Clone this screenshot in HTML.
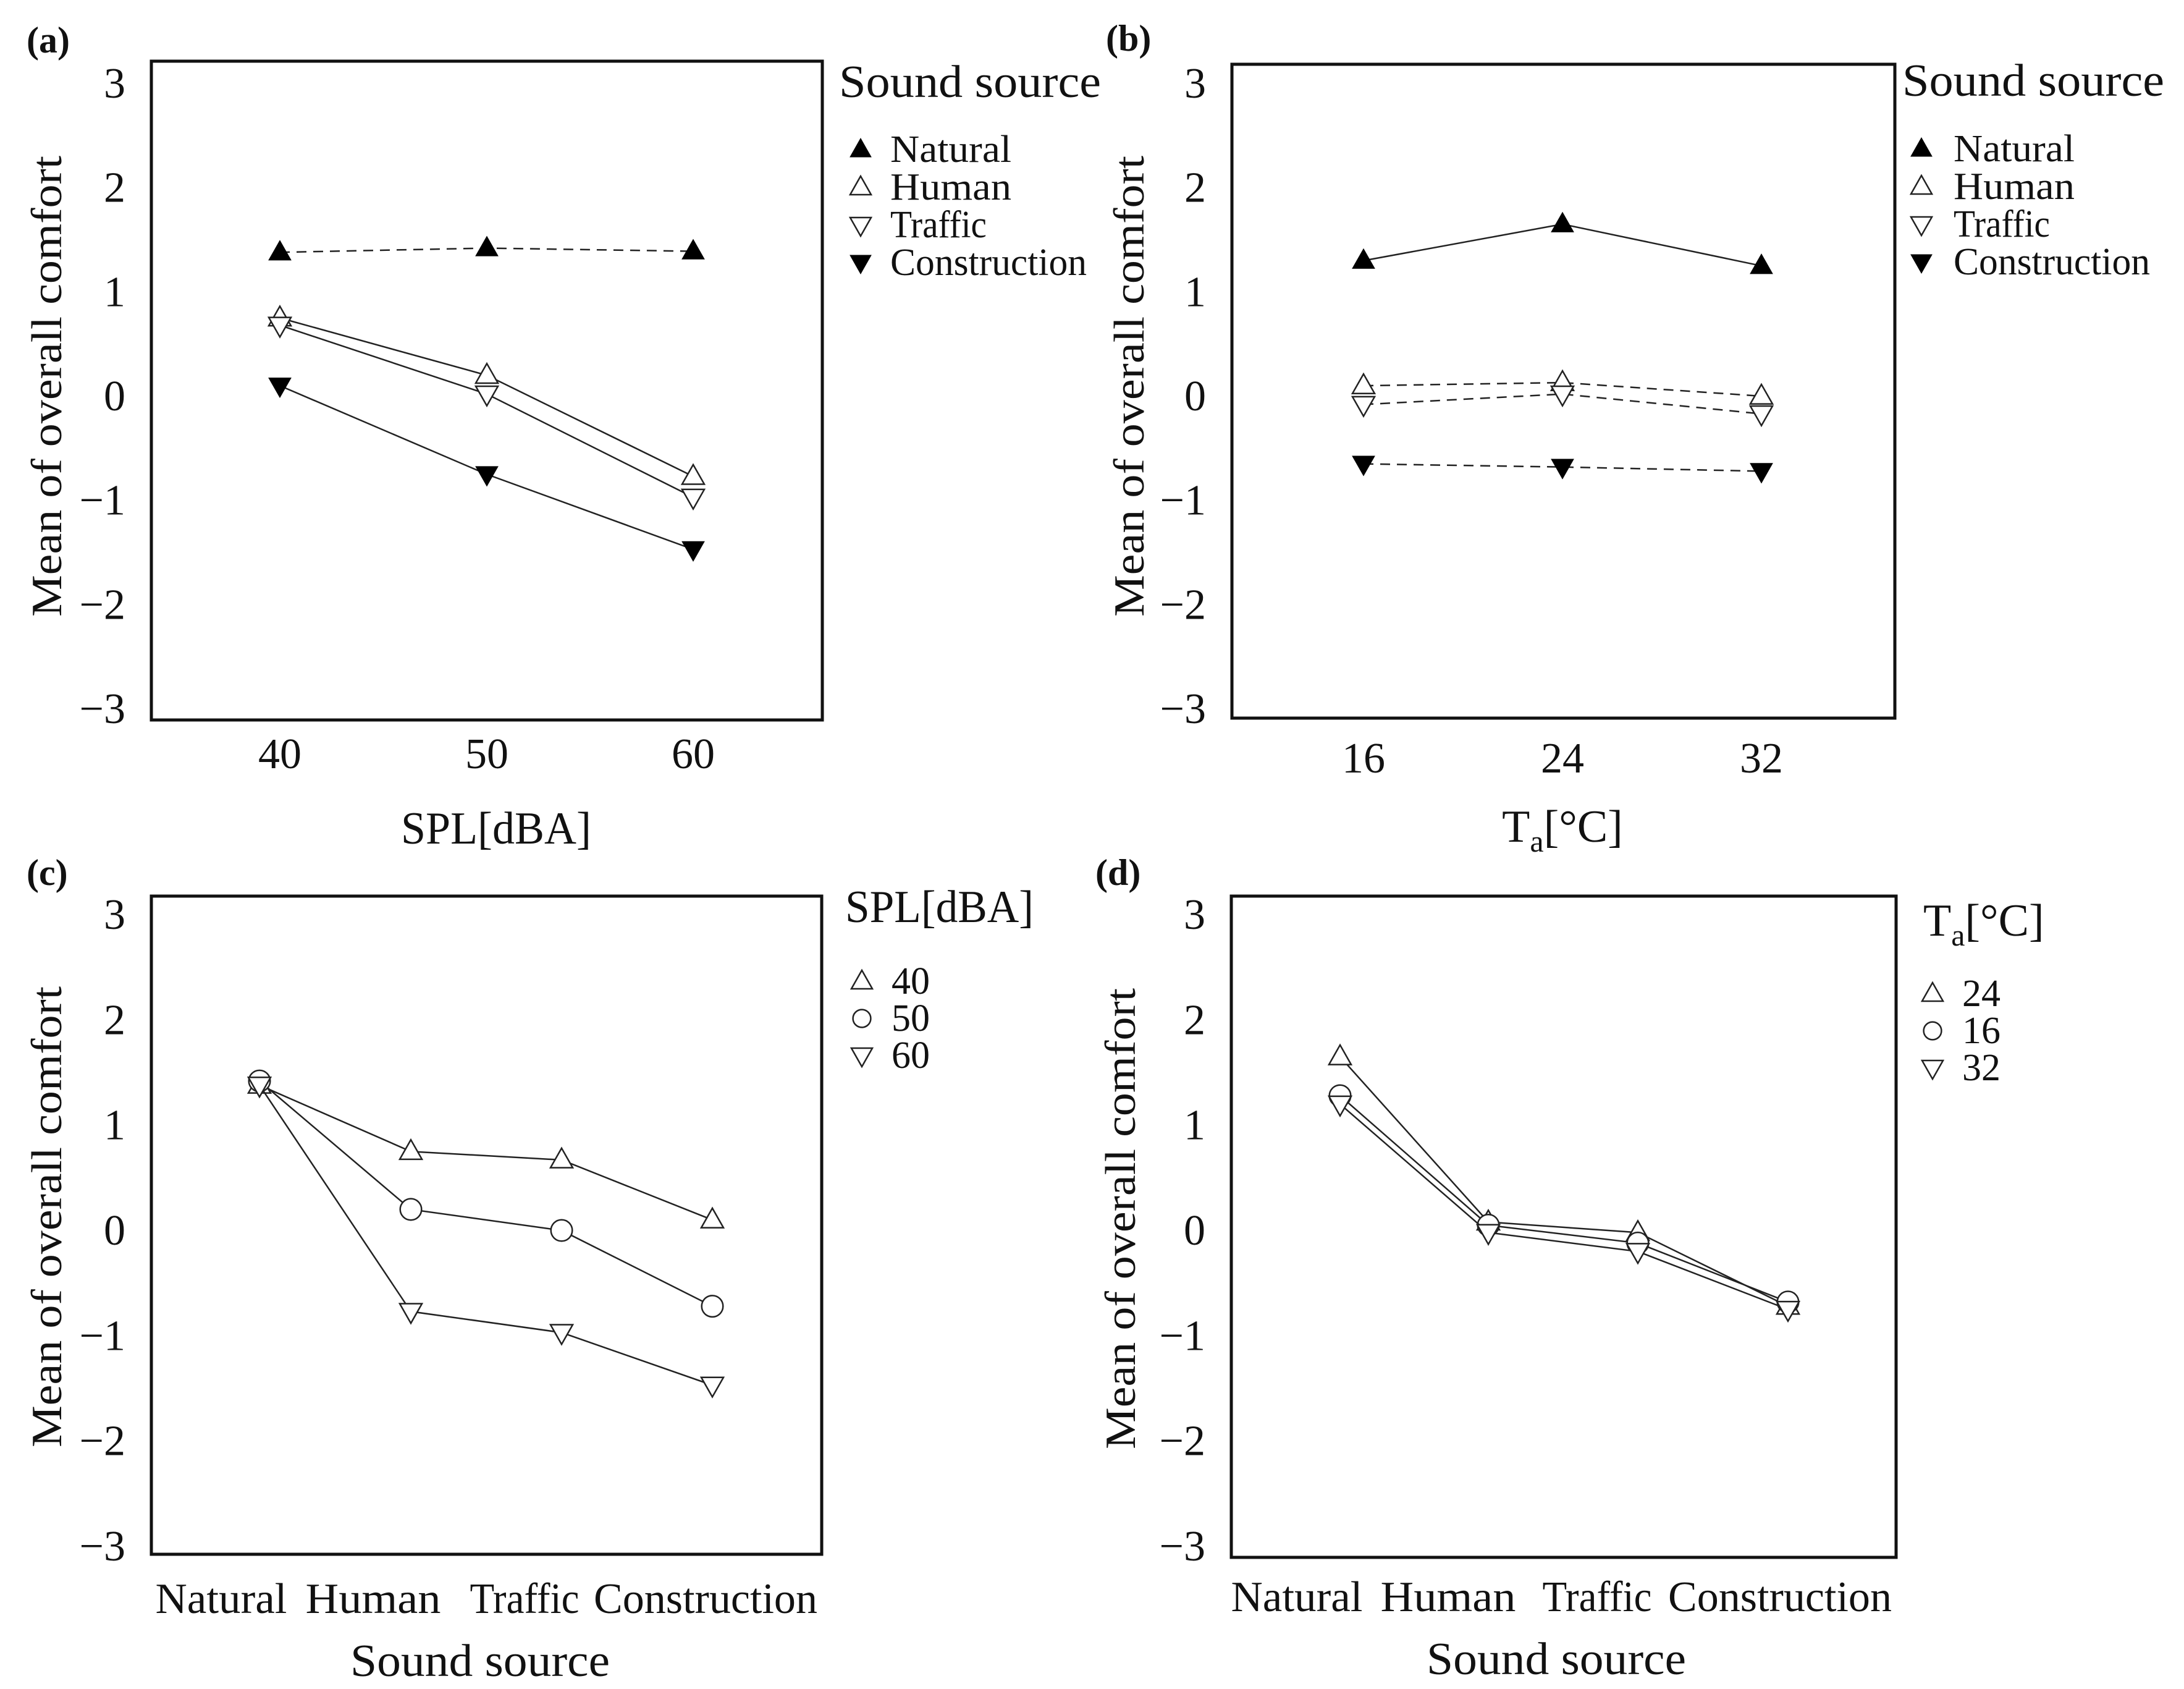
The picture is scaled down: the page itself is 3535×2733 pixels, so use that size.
<!DOCTYPE html>
<html><head><meta charset="utf-8">
<style>
html,body{margin:0;padding:0;background:#fff;}
svg{display:block;}
text{font-family:"Liberation Serif",serif;fill:#111;}
</style></head>
<body>
<svg id="fig" width="3535" height="2733" viewBox="0 0 3535 2733" xmlns="http://www.w3.org/2000/svg"></svg>
<script>
// ---- data ----
const yTicks = [3, 2, 1, 0, -1, -2, -3];
const splCats = ["40", "50", "60"];
const taCats = ["16", "24", "32"];
const sourceCats = ["Natural", "Human", "Traffic", "Construction"];
// panel (a): series by sound source across SPL
const aNatural = [1.38, 1.42, 1.39];
const aHuman = [0.75, 0.2, -0.77];
const aTraffic = [0.68, 0.02, -0.97];
const aConstruction = [0.1, -0.75, -1.47];
// panel (b): series by sound source across Ta
const bNatural = [1.3, 1.65, 1.25];
const bHuman = [0.1, 0.13, 0.0];
const bTraffic = [-0.08, 0.02, -0.17];
const bConstruction = [-0.65, -0.68, -0.72];
// panel (c): series by SPL across sound source
const c40 = [1.38, 0.75, 0.67, 0.1];
const c50 = [1.42, 0.2, 0.0, -0.72];
const c60 = [1.38, -0.77, -0.97, -1.47];
// panel (d): series by Ta across sound source
const d24 = [1.65, 0.08, -0.02, -0.72];
const d16 = [1.28, 0.05, -0.12, -0.68];
const d32 = [1.2, -0.02, -0.2, -0.75];

const NS = "http://www.w3.org/2000/svg";
const svg = document.getElementById("fig");
function mk(tag, attrs, parent) {
  const e = document.createElementNS(NS, tag);
  for (const k in attrs) e.setAttribute(k, attrs[k]);
  (parent || svg).appendChild(e);
  return e;
}
function txt(s, attrs, parent) { const t = mk("text", attrs, parent); t.textContent = s; return t; }

function marker(g, type, cx, cy, s) {
  let e;
  if (type === "circle") {
    e = mk("circle", {cx: cx, cy: cy, r: s * 0.48, fill: "#fff", stroke: "#222", "stroke-width": 2.5}, g);
  } else {
    const up = type === "up" || type === "upf";
    const filled = type === "upf" || type === "downf";
    const h = s * 0.88, w = s;
    const pts = up
      ? [[cx, cy - h * 0.6], [cx - w / 2, cy + h * 0.4], [cx + w / 2, cy + h * 0.4]]
      : [[cx, cy + h * 0.6], [cx - w / 2, cy - h * 0.4], [cx + w / 2, cy - h * 0.4]];
    e = mk("polygon", {points: pts.map(p => p.join(",")).join(" "), fill: filled ? "#000" : "#fff", stroke: filled ? "#000" : "#222", "stroke-width": filled ? 1 : 2.5}, g);
  }
  return e;
}

function panel(cfg) {
  const g = mk("g", {});
  
  
  const L = cfg.box[0], R = cfg.box[1], T = cfg.box[2], B = cfg.box[3];
  const y3 = cfg.yr[0], ym3 = cfg.yr[1];
  const yScale = v => y3 + (3 - v) * (ym3 - y3) / 6;
  const xScale = i => cfg.xs[i];

  const lab = txt(cfg.label, {x: cfg.labelPos[0], y: cfg.labelPos[1], "font-size": 60, "font-weight": "bold"}, g);
  
  

  const box = mk("rect", {x: L, y: T, width: R - L, height: B - T, fill: "none", stroke: "#111", "stroke-width": 5}, g);
  
  

  yTicks.forEach(v => {
    const t = txt(v < 0 ? "\u2212" + Math.abs(v) : String(v), {x: L - 42, y: yScale(v) + 23, "font-size": 70, "text-anchor": "end"}, g);
    
    
  });
  const yl = txt("Mean of overall comfort", {x: 0, y: 0, "font-size": 70, "text-anchor": "middle", textLength: 746, lengthAdjust: "spacingAndGlyphs", transform: "translate(" + (cfg.ylabX + 24) + "," + cfg.ylabY + ") rotate(-90)"}, g);
  
  

  cfg.cats.forEach((c, i) => {
    const a = {x: cfg.catX[i], y: cfg.catY, "font-size": cfg.catFont, "text-anchor": "middle"};
    if (cfg.catW) { a.textLength = cfg.catW[i]; a.lengthAdjust = "spacingAndGlyphs"; }
    const t = txt(c, a, g);
    
    
  });
  const xt = mk("text", {x: cfg.xlab[0], y: cfg.xlab[1], "font-size": 74, "text-anchor": "middle"}, g);
  
  
  if (cfg.xlabSub) {
    xt.appendChild(document.createTextNode("T"));
    const sub = mk("tspan", {"font-size": 50, dy: 16}, xt); sub.textContent = "a";
    const rest = mk("tspan", {dy: -16}, xt); rest.textContent = "[\u00B0C]";
  } else { xt.textContent = cfg.xlabText; if (cfg.xlabW) { xt.setAttribute("textLength", cfg.xlabW); xt.setAttribute("lengthAdjust", "spacingAndGlyphs"); } }

  cfg.series.forEach(s => {
    const sg = mk("g", {}, g);
    
    
    const pts = s.vals.map((v, i) => xScale(i) + "," + yScale(v)).join(" ");
    const line = mk("polyline", {points: pts, fill: "none", stroke: "#222", "stroke-width": 2.5, "stroke-dasharray": s.dash ? "16,11" : "none"}, sg);
    
    
    s.vals.forEach((v, i) => {
      const m = marker(sg, s.m, xScale(i), yScale(v), cfg.msize);
      
      
    });
  });

  const lg = mk("g", {}, g);
  
  
  const lt = mk("text", {x: cfg.legTitle[0], y: cfg.legTitle[1], "font-size": 74}, lg);
  
  
  if (cfg.legTitleSub) {
    lt.appendChild(document.createTextNode("T"));
    const sub = mk("tspan", {"font-size": 50, dy: 16}, lt); sub.textContent = "a";
    const rest = mk("tspan", {dy: -16}, lt); rest.textContent = "[\u00B0C]";
  } else { lt.textContent = cfg.legTitleText; if (cfg.legTitleW) { lt.setAttribute("textLength", cfg.legTitleW); lt.setAttribute("lengthAdjust", "spacingAndGlyphs"); } }
  cfg.series.forEach((s, i) => {
    const yb = cfg.legY0 + i * cfg.legDy;
    const m = marker(lg, s.m, cfg.legMX, yb - 20, s.m === "circle" ? 30 : 34);
    
    
    const a = {x: cfg.legTX, y: yb, "font-size": 62};
    if (s.lw) { a.textLength = s.lw; a.lengthAdjust = "spacingAndGlyphs"; }
    const t = txt(s.label, a, lg);
    
    
  });
}

panel({name: "panel-a", label: "(a)", labelPos: [43, 85], box: [245, 1331, 99, 1165], yr: [135, 1147],
  xs: [453, 788, 1122], cats: splCats, catX: [453, 788, 1122], catY: 1243, catFont: 70,
  xlab: [803, 1365], xlabText: "SPL[dBA]", xlabW: 308, ylabX: 75, ylabY: 625, msize: 36,
  legTitle: [1358, 157], legTitleText: "Sound source", legTitleW: 424, legMX: 1393, legTX: 1441, legY0: 262, legDy: 61,
  series: [
    {key: "natural", label: "Natural", vals: aNatural, m: "upf", dash: true, lw: 196},
    {key: "human", label: "Human", vals: aHuman, m: "up", dash: false, lw: 196},
    {key: "traffic", label: "Traffic", vals: aTraffic, m: "down", dash: false, lw: 156},
    {key: "construction", label: "Construction", vals: aConstruction, m: "downf", dash: false, lw: 318}
  ]});

panel({name: "panel-b", label: "(b)", labelPos: [1790, 82], box: [1994, 3067, 104, 1162], yr: [135, 1147],
  xs: [2207, 2529, 2851], cats: taCats, catX: [2207, 2529, 2851], catY: 1250, catFont: 70,
  xlab: [2529, 1362], xlabSub: true, ylabX: 1827, ylabY: 625, msize: 36,
  legTitle: [3079, 155], legTitleText: "Sound source", legTitleW: 424, legMX: 3110, legTX: 3162, legY0: 261, legDy: 61,
  series: [
    {key: "natural", label: "Natural", vals: bNatural, m: "upf", dash: false, lw: 196},
    {key: "human", label: "Human", vals: bHuman, m: "up", dash: true, lw: 196},
    {key: "traffic", label: "Traffic", vals: bTraffic, m: "down", dash: true, lw: 156},
    {key: "construction", label: "Construction", vals: bConstruction, m: "downf", dash: true, lw: 318}
  ]});

panel({name: "panel-c", label: "(c)", labelPos: [43, 1432], box: [245, 1330, 1450, 2515], yr: [1480, 2502],
  xs: [420, 665, 909, 1153], cats: sourceCats, catX: [358, 604, 849, 1142], catY: 2610, catFont: 70, catW: [213, 219, 177, 362],
  xlab: [777, 2712], xlabText: "Sound source", xlabW: 420, ylabX: 75, ylabY: 1969, msize: 36,
  legTitle: [1368, 1492], legTitleText: "SPL[dBA]", legTitleW: 305, legMX: 1395, legTX: 1443, legY0: 1608, legDy: 60,
  series: [
    {key: "spl-40", label: "40", vals: c40, m: "up", dash: false},
    {key: "spl-50", label: "50", vals: c50, m: "circle", dash: false},
    {key: "spl-60", label: "60", vals: c60, m: "down", dash: false}
  ]});

panel({name: "panel-d", label: "(d)", labelPos: [1773, 1432], box: [1993, 3069, 1450, 2520], yr: [1480, 2502],
  xs: [2169, 2409, 2651, 2894], cats: sourceCats, catX: [2099, 2344, 2585, 2881], catY: 2607, catFont: 70, catW: [213, 219, 177, 362],
  xlab: [2519, 2709], xlabText: "Sound source", xlabW: 420, ylabX: 1813, ylabY: 1972, msize: 36,
  legTitle: [3113, 1514], legTitleSub: true, legMX: 3128, legTX: 3176, legY0: 1628, legDy: 60,
  series: [
    {key: "ta-24", label: "24", vals: d24, m: "up", dash: false},
    {key: "ta-16", label: "16", vals: d16, m: "circle", dash: false},
    {key: "ta-32", label: "32", vals: d32, m: "down", dash: false}
  ]});
</script>
</body></html>
